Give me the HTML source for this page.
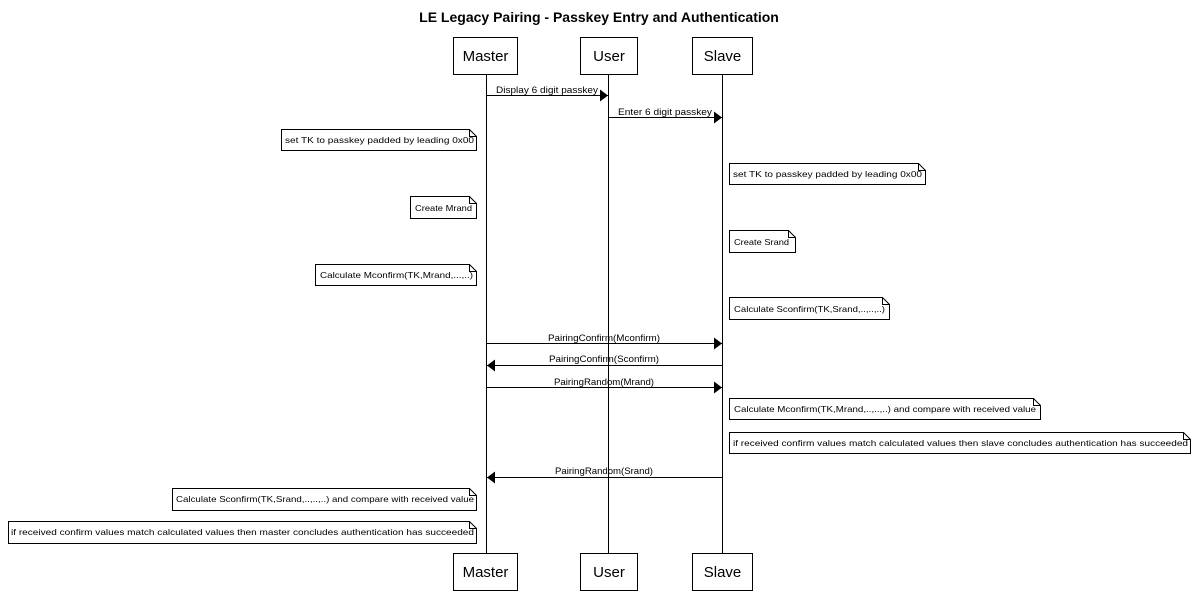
<!DOCTYPE html>
<html><head><meta charset="utf-8"><style>
html,body{margin:0;padding:0;background:#fff;}
svg{display:block;font-family:"Liberation Sans",Arial,sans-serif;}
</style></head><body>
<svg width="1199" height="592" viewBox="0 0 1199 592" xmlns="http://www.w3.org/2000/svg">
<defs>
<marker id="a" markerWidth="8" markerHeight="12" refX="8" refY="6" orient="auto" markerUnits="userSpaceOnUse"><path d="M0,0 L8,6 L0,12 z" fill="#000"/></marker>
</defs>
<text x="599" y="22" text-anchor="middle" font-size="14" font-weight="bold">LE Legacy Pairing - Passkey Entry and Authentication</text>
<g stroke="#000" stroke-width="1" fill="none">
<line x1="486.5" y1="74" x2="486.5" y2="553"/>
<line x1="608.5" y1="74" x2="608.5" y2="553"/>
<line x1="722.5" y1="74" x2="722.5" y2="553"/>
</g>
<g stroke="#000" fill="#fff">
<rect x="453.5" y="37.5" width="64" height="37"/>
<rect x="580.5" y="37.5" width="57" height="37"/>
<rect x="692.5" y="37.5" width="60" height="37"/>
<rect x="453.5" y="553.5" width="64" height="37"/>
<rect x="580.5" y="553.5" width="57" height="37"/>
<rect x="692.5" y="553.5" width="60" height="37"/>
</g>
<g font-size="15" text-anchor="middle">
<text x="485.5" y="61">Master</text><text x="609" y="61">User</text><text x="722.5" y="61">Slave</text>
<text x="485.5" y="577">Master</text><text x="609" y="577">User</text><text x="722.5" y="577">Slave</text>
</g>
<g stroke="#000" stroke-width="1">
<line x1="486.5" y1="95.5" x2="608" y2="95.5" marker-end="url(#a)"/>
<line x1="608.5" y1="117.5" x2="722" y2="117.5" marker-end="url(#a)"/>
<line x1="486.5" y1="343.5" x2="722" y2="343.5" marker-end="url(#a)"/>
<line x1="722.5" y1="365.5" x2="487" y2="365.5" marker-end="url(#a)"/>
<line x1="486.5" y1="387.5" x2="722" y2="387.5" marker-end="url(#a)"/>
<line x1="722.5" y1="477.5" x2="487" y2="477.5" marker-end="url(#a)"/>
</g>
<g font-size="9.5" text-anchor="middle">
<text x="547" y="93" textLength="102" lengthAdjust="spacingAndGlyphs">Display 6 digit passkey</text>
<text x="665" y="115" textLength="94" lengthAdjust="spacingAndGlyphs">Enter 6 digit passkey</text>
<text x="604" y="341" textLength="112" lengthAdjust="spacingAndGlyphs">PairingConfirm(Mconfirm)</text>
<text x="604" y="362" textLength="110" lengthAdjust="spacingAndGlyphs">PairingConfirm(Sconfirm)</text>
<text x="604" y="385" textLength="100" lengthAdjust="spacingAndGlyphs">PairingRandom(Mrand)</text>
<text x="604" y="474" textLength="98" lengthAdjust="spacingAndGlyphs">PairingRandom(Srand)</text>
</g>
<g stroke="#000" fill="#fff" stroke-width="1">
<path d="M281.5,129.5 H469.5 L476.5,136.5 V150.5 H281.5 Z"/>
<path d="M729.5,163.5 H918.5 L925.5,170.5 V184.5 H729.5 Z"/>
<path d="M410.5,196.5 H469.5 L476.5,203.5 V218.5 H410.5 Z"/>
<path d="M729.5,230.5 H788.5 L795.5,237.5 V252.5 H729.5 Z"/>
<path d="M315.5,264.5 H469.5 L476.5,271.5 V285.5 H315.5 Z"/>
<path d="M729.5,297.5 H882.5 L889.5,304.5 V319.5 H729.5 Z"/>
<path d="M729.5,398.5 H1033.5 L1040.5,405.5 V419.5 H729.5 Z"/>
<path d="M729.5,432.5 H1183.5 L1190.5,439.5 V453.5 H729.5 Z"/>
<path d="M172.5,488.5 H469.5 L476.5,495.5 V510.5 H172.5 Z"/>
<path d="M8.5,521.5 H469.5 L476.5,528.5 V543.5 H8.5 Z"/>
</g>
<g stroke="#000" fill="none" stroke-width="1">
<path d="M469.5,129.5 V136.5 H476.5"/><path d="M918.5,163.5 V170.5 H925.5"/>
<path d="M469.5,196.5 V203.5 H476.5"/><path d="M788.5,230.5 V237.5 H795.5"/>
<path d="M469.5,264.5 V271.5 H476.5"/><path d="M882.5,297.5 V304.5 H889.5"/>
<path d="M1033.5,398.5 V405.5 H1040.5"/><path d="M1183.5,432.5 V439.5 H1190.5"/>
<path d="M469.5,488.5 V495.5 H476.5"/><path d="M469.5,521.5 V528.5 H476.5"/>
</g>
<g font-size="8.5">
<text x="285" y="143" textLength="189" lengthAdjust="spacingAndGlyphs">set TK to passkey padded by leading 0x00</text>
<text x="733" y="177" textLength="189" lengthAdjust="spacingAndGlyphs">set TK to passkey padded by leading 0x00</text>
<text x="415" y="211" textLength="57" lengthAdjust="spacingAndGlyphs">Create Mrand</text>
<text x="734" y="245" textLength="55" lengthAdjust="spacingAndGlyphs">Create Srand</text>
<text x="320" y="278" textLength="153" lengthAdjust="spacingAndGlyphs">Calculate Mconfirm(TK,Mrand,...,..)</text>
<text x="734" y="312" textLength="151" lengthAdjust="spacingAndGlyphs">Calculate Sconfirm(TK,Srand,..,..,..)</text>
<text x="734" y="412" textLength="302" lengthAdjust="spacingAndGlyphs">Calculate Mconfirm(TK,Mrand,..,..,..) and compare with received value</text>
<text x="733" y="446" textLength="455" lengthAdjust="spacingAndGlyphs">if received confirm values match calculated values then slave concludes authentication has succeeded</text>
<text x="176" y="502" textLength="298" lengthAdjust="spacingAndGlyphs">Calculate Sconfirm(TK,Srand,..,..,..) and compare with received value</text>
<text x="11" y="535" textLength="463" lengthAdjust="spacingAndGlyphs">if received confirm values match calculated values then master concludes authentication has succeeded</text>
</g>
</svg>
</body></html>
